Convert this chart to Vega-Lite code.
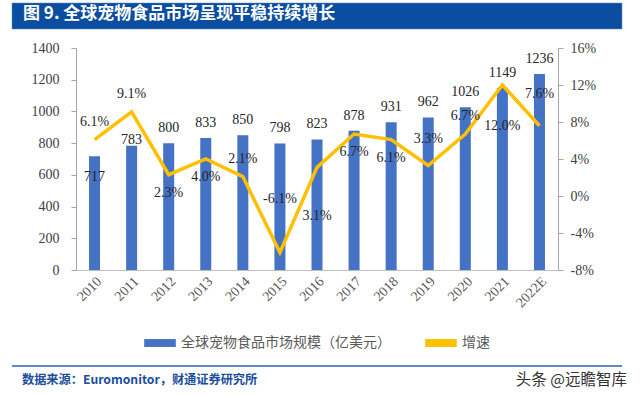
{
  "$schema": "https://vega.github.io/schema/vega-lite/v6.json",
  "background": "white",
  "padding": {"left": 9, "top": 2, "right": 0, "bottom": 0},
  "spacing": 19,
  "center": true,
  "bounds": "flush",
  "resolve": {"scale": {"color": "independent"}, "legend": {"color": "independent"}},
  "config": {
    "locale": {"number": {"decimal": ".", "thousands": ",", "grouping": [3], "currency": ["$", ""], "minus": "-"}},
    "text": {"font": "Liberation Serif", "fontSize": 14, "color": "#262626", "baseline": "middle"},
    "axis": {"grid": false, "title": null, "labelFont": "Liberation Serif", "labelFontSize": 14, "labelColor": "#404040", "domainColor": "#A6A6A6", "tickColor": "#A6A6A6", "tickSize": 5},
    "legend": {"layout": {"bottom": {"anchor": "middle"}}}
  },
  "vconcat": [
    {
      "width": 610,
      "height": 26,
      "view": {"fill": "#0B4DA1", "stroke": "#5E88C6", "strokeWidth": 0.5},
      "title": {
        "text": "图 9. 全球宠物食品市场呈现平稳持续增长",
        "anchor": "start",
        "orient": "top",
        "offset": -20,
        "dx": 11,
        "color": "white",
        "font": "Noto Sans CJK SC",
        "fontSize": 17,
        "fontWeight": "bold"
      },
      "data": {"values": []},
      "mark": {"type": "text"},
      "encoding": {}
    },
    {
      "width": 482,
      "height": 222,
      "view": {"stroke": null},
      "data": {
        "values": [
          {"year": "2010", "size": 717, "growth": 0.061},
          {"year": "2011", "size": 783, "growth": 0.091},
          {"year": "2012", "size": 800, "growth": 0.023},
          {"year": "2013", "size": 833, "growth": 0.040},
          {"year": "2014", "size": 850, "growth": 0.021},
          {"year": "2015", "size": 798, "growth": -0.061},
          {"year": "2016", "size": 823, "growth": 0.031},
          {"year": "2017", "size": 878, "growth": 0.067},
          {"year": "2018", "size": 931, "growth": 0.061},
          {"year": "2019", "size": 962, "growth": 0.033},
          {"year": "2020", "size": 1026, "growth": 0.067},
          {"year": "2021", "size": 1149, "growth": 0.120},
          {"year": "2022E", "size": 1236, "growth": 0.076}
        ]
      },
      "encoding": {
        "x": {
          "field": "year",
          "type": "ordinal",
          "sort": null,
          "scale": {"paddingInner": 0.5, "paddingOuter": 0.25},
          "axis": {"labelAngle": -45, "labelColor": "#595959", "domainColor": "#BFBFBF", "ticks": false, "labelPadding": 4}
        }
      },
      "layer": [
        {
          "encoding": {
            "y": {
              "field": "size",
              "type": "quantitative",
              "scale": {"domain": [0, 1400], "nice": false},
              "axis": {"orient": "left", "values": [0, 200, 400, 600, 800, 1000, 1200, 1400], "format": "d", "labelPadding": 12}
            }
          },
          "layer": [
            {
              "mark": {"type": "bar", "size": 11},
              "encoding": {
                "color": {
                  "datum": "全球宠物食品市场规模（亿美元）",
                  "scale": {"domain": ["全球宠物食品市场规模（亿美元）", "增速"], "range": ["#4472C4", "#FFC000"]},
                  "legend": {
                    "orient": "bottom",
                    "direction": "horizontal",
                    "title": null,
                    "symbolType": "M-1,-0.25L1,-0.25L1,0.25L-1,0.25Z",
                    "symbolSize": 1000,
                    "symbolStrokeWidth": 0,
                    "labelFont": "Noto Sans CJK SC",
                    "labelFontSize": 14,
                    "labelColor": "#595959",
                    "labelLimit": 400,
                    "labelOffset": 5,
                    "columnPadding": 34,
                    "offset": 17
                  }
                }
              }
            },
            {
              "transform": [{"filter": {"not": {"field": "year", "oneOf": ["2010", "2011"]}}}],
              "mark": {"type": "text", "dy": -15},
              "encoding": {"text": {"field": "size", "type": "quantitative", "format": "d"}}
            },
            {
              "transform": [{"filter": {"field": "year", "oneOf": ["2011"]}}],
              "mark": {"type": "text", "dy": -6},
              "encoding": {"text": {"field": "size", "type": "quantitative", "format": "d"}}
            },
            {
              "transform": [{"filter": {"field": "year", "oneOf": ["2010"]}}],
              "mark": {"type": "text", "dy": 21},
              "encoding": {"text": {"field": "size", "type": "quantitative", "format": "d"}}
            }
          ]
        },
        {
          "encoding": {
            "y": {
              "field": "growth",
              "type": "quantitative",
              "scale": {"domain": [-0.08, 0.16], "nice": false},
              "axis": {"orient": "right", "values": [-0.08, -0.04, 0, 0.04, 0.08, 0.12, 0.16], "format": ".0%", "labelPadding": 7}
            }
          },
          "layer": [
            {
              "mark": {"type": "line", "strokeWidth": 3.5},
              "encoding": {"color": {"datum": "增速"}}
            },
            {
              "transform": [{"filter": {"field": "year", "oneOf": ["2010", "2011", "2014", "2020"]}}],
              "mark": {"type": "text", "dy": -18},
              "encoding": {"text": {"field": "growth", "type": "quantitative", "format": ".1%"}}
            },
            {
              "transform": [{"filter": {"field": "year", "oneOf": ["2012", "2013", "2017", "2018"]}}],
              "mark": {"type": "text", "dy": 18},
              "encoding": {"text": {"field": "growth", "type": "quantitative", "format": ".1%"}}
            },
            {
              "transform": [{"filter": {"field": "year", "oneOf": ["2015"]}}],
              "mark": {"type": "text", "dy": -53},
              "encoding": {"text": {"field": "growth", "type": "quantitative", "format": ".1%"}}
            },
            {
              "transform": [{"filter": {"field": "year", "oneOf": ["2016"]}}],
              "mark": {"type": "text", "dy": 49},
              "encoding": {"text": {"field": "growth", "type": "quantitative", "format": ".1%"}}
            },
            {
              "transform": [{"filter": {"field": "year", "oneOf": ["2019"]}}],
              "mark": {"type": "text", "dy": -26},
              "encoding": {"text": {"field": "growth", "type": "quantitative", "format": ".1%"}}
            },
            {
              "transform": [{"filter": {"field": "year", "oneOf": ["2021"]}}],
              "mark": {"type": "text", "dy": 41},
              "encoding": {"text": {"field": "growth", "type": "quantitative", "format": ".1%"}}
            },
            {
              "transform": [{"filter": {"field": "year", "oneOf": ["2022E"]}}],
              "mark": {"type": "text", "dy": -32},
              "encoding": {"text": {"field": "growth", "type": "quantitative", "format": ".1%"}}
            }
          ]
        }
      ],
      "resolve": {"scale": {"y": "independent"}}
    },
    {
      "width": 616,
      "height": 58,
      "view": {"stroke": null},
      "data": {"values": []},
      "mark": {"type": "text"},
      "encoding": {}
    },
    {
      "width": 610,
      "height": 14,
      "view": {"stroke": null},
      "encoding": {
        "x": {"field": "pos", "type": "quantitative", "scale": {"domain": [0, 1], "nice": false}, "axis": null},
        "y": {"field": "row", "type": "quantitative", "scale": {"domain": [0, 1], "nice": false}, "axis": null}
      },
      "layer": [
        {
          "data": {"values": [{"pos": 0, "end": 1, "row": 1}]},
          "mark": {"type": "rule", "color": "#2E62AD", "strokeWidth": 1.5},
          "encoding": {"x2": {"field": "end"}}
        },
        {
          "data": {"values": [{"pos": 0, "row": 0, "note": "数据来源：Euromonitor，财通证券研究所"}]},
          "mark": {"type": "text", "align": "left", "dx": 10, "font": "Noto Sans CJK SC", "fontSize": 12.2, "fontWeight": "bold", "color": "#1A4E9C"},
          "encoding": {"text": {"field": "note"}}
        },
        {
          "data": {"values": [{"pos": 1, "row": 0, "note": "头条 @远瞻智库"}]},
          "mark": {"type": "text", "align": "right", "dx": 5, "font": "Noto Sans CJK SC", "fontSize": 15.5, "color": "#333333"},
          "encoding": {"text": {"field": "note"}}
        }
      ]
    }
  ]
}
